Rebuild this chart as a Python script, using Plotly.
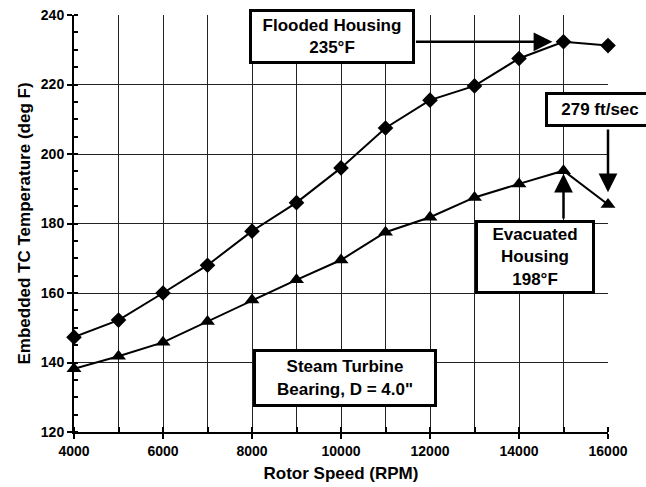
import plotly.graph_objects as go

rpm = [4000, 5000, 6000, 7000, 8000, 9000, 10000, 11000, 12000, 13000, 14000, 15000, 16000]
flooded = [147.3, 152.2, 160.0, 168.0, 177.8, 186.0, 196.0, 207.5, 215.5, 219.6, 227.5, 232.3, 231.2]
evacuated = [138.2, 141.8, 145.8, 151.8, 158.0, 163.8, 169.5, 177.5, 181.8, 187.5, 191.4, 195.2, 185.5]

x_ticks = [4000, 6000, 8000, 10000, 12000, 14000, 16000]
y_ticks = [120, 140, 160, 180, 200, 220, 240]

FONT = "Arial, Liberation Sans, sans-serif"

fig = go.Figure()
fig.add_trace(go.Scatter(x=rpm, y=flooded, mode="lines+markers",
                         line=dict(color="black", width=2),
                         marker=dict(symbol="diamond", size=12, color="black"),
                         name="Flooded Housing", cliponaxis=False))
fig.add_trace(go.Scatter(x=rpm, y=evacuated, mode="lines+markers",
                         line=dict(color="black", width=2),
                         marker=dict(symbol="triangle-up", size=13, color="black"),
                         name="Evacuated Housing", cliponaxis=False))

box_font = dict(family=FONT, size=17, color="black", weight="bold")

def box(text, x, y, w, h):
    fig.add_annotation(x=x, y=y, xref="x", yref="y", text=text, showarrow=False,
                       font=box_font, bgcolor="white", bordercolor="black",
                       borderwidth=3, borderpad=0, width=w, height=h,
                       align="center", valign="middle")

def arrow(x0, y0, x1, y1):
    fig.add_annotation(x=x1, y=y1, ax=x0, ay=y0, xref="x", yref="y",
                       axref="x", ayref="y", text="", showarrow=True,
                       arrowhead=2, arrowsize=1.5, arrowwidth=2.5,
                       arrowcolor="black", standoff=0)

# arrows first so boxes overlay their tails
arrow(11650, 232.3, 14750, 232.3)
arrow(16000, 207.5, 16000, 189.0)
arrow(15000, 181.0, 15000, 194.3)

box("Flooded Housing<br>235\u00b0F", 9790, 233.7, 160, 49)
box("279 ft/sec", 15830, 212.7, 104, 29)
box("Evacuated<br>Housing<br>198\u00b0F", 14360, 170.5, 114, 68)
box("Steam Turbine<br>Bearing, D = 4.0\"", 10100, 135.6, 178, 52)

tick_font = dict(family=FONT, size=14, color="black", weight="bold")
title_font = dict(family=FONT, size=17, color="black", weight="bold")

fig.update_xaxes(range=[4000, 16000], tickmode="array", tickvals=x_ticks,
                 ticktext=[str(v) for v in x_ticks], automargin=False,
                 showgrid=True, gridcolor="#222", gridwidth=1,
                 showline=True, linecolor="black", linewidth=2,
                 ticks="outside", ticklen=5, tickcolor="black", tickwidth=1.5,
                 tickfont=tick_font, zeroline=False,
                 minor=dict(dtick=1000, ticks="inside", ticklen=5, tickcolor="black",
                            showgrid=True, gridcolor="#222", gridwidth=1),
                 title=dict(text="Rotor Speed (RPM)", standoff=9, font=title_font))
fig.update_yaxes(range=[120, 240], tickmode="array", tickvals=y_ticks,
                 ticktext=[str(v) for v in y_ticks], automargin=False,
                 showgrid=True, gridcolor="#222", gridwidth=1,
                 showline=True, linecolor="black", linewidth=2,
                 ticks="outside", ticklen=5, tickcolor="black", tickwidth=1.5,
                 tickfont=tick_font, zeroline=False,
                 minor=dict(dtick=5, ticks="inside", ticklen=4, tickcolor="black",
                            showgrid=False),
                 title=dict(text="Embedded TC Temperature (deg F)", standoff=6,
                            font=title_font))

fig.update_layout(width=646, height=487, margin=dict(l=74, r=38, t=15, b=55),
                  plot_bgcolor="white", paper_bgcolor="white", showlegend=False)

fig.write_html("out.html")
